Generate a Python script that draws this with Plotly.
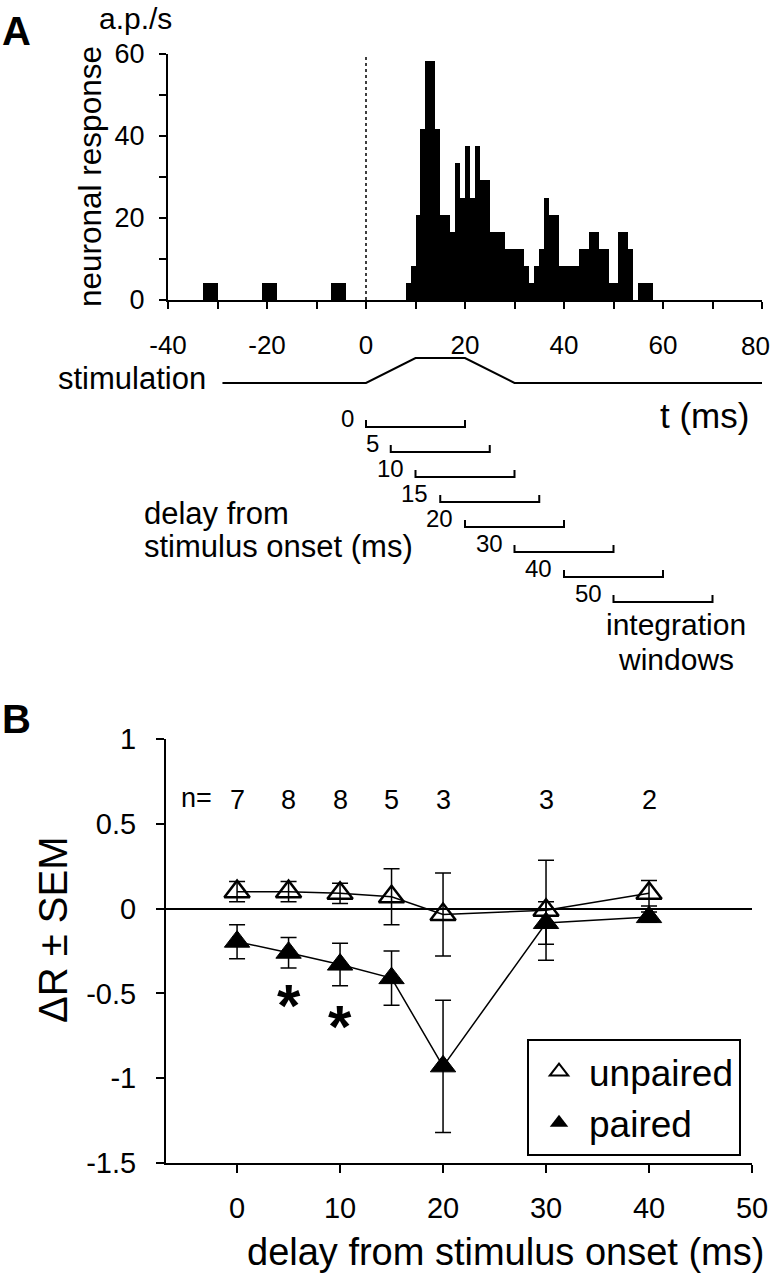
import plotly.graph_objects as go

# ---------------- data ----------------
# Panel A: PSTH (bin edges in ms, rate in a.p./s)
bin_left = [-33, -21, -7, 8, 9, 10, 11, 12, 14, 15, 17, 18, 19, 20, 21, 22, 23, 25, 28,
            32, 33, 34, 35, 36, 37, 39, 43, 45, 47, 49, 51, 53, 55]
bin_right = [-30, -18, -4, 9, 10, 11, 12, 14, 15, 17, 18, 19, 20, 21, 22, 23, 25, 28, 32,
             33, 34, 35, 36, 37, 39, 43, 45, 47, 49, 51, 53, 54, 58]
rate = [4.2, 4.2, 4.2, 4.2, 8.3, 20.8, 41.7, 58.3, 41.7, 20.8, 16.7, 33.3, 25.0, 37.5, 25.0,
        37.5, 29.2, 16.7, 12.5, 8.3, 4.2, 8.3, 12.5, 25.0, 20.8, 8.3, 12.5, 16.7, 12.5, 4.2,
        16.7, 12.5, 4.2]

# stimulation waveform (time ms, relative level)
stim_t = [-29, 0, 10, 20, 30, 80]
stim_level = [0, 0, 1, 1, 0, 0]

# integration windows
window_delays = [0, 5, 10, 15, 20, 30, 40, 50]
window_len = 20

# Panel B
delays = [0, 5, 10, 15, 20, 30, 40]
unpaired_mean = [0.10, 0.10, 0.09, 0.07, -0.035, -0.01, 0.09]
unpaired_sem = [0.06, 0.06, 0.06, 0.165, 0.245, 0.295, 0.075]
paired_mean = [-0.195, -0.26, -0.33, -0.41, -0.93, -0.085, -0.05]
paired_sem = [0.10, 0.09, 0.125, 0.16, 0.39, 0.125, 0.03]
n_counts = [7, 8, 8, 5, 3, 3, 2]
signif_delays = [5, 10]
signif_y = [-0.52, -0.64]

xA_ticks = [-40, -20, 0, 20, 40, 60, 80]
xA_ticktext = ["-40", "-20", "0", "20", "40", "60", ""]   # last label placed inside the page edge below
xA_last_label = "80"
yA_ticks = [0, 20, 40, 60]
xB_ticks = [0, 10, 20, 30, 40, 50]
yB_ticks = [1, 0.5, 0, -0.5, -1, -1.5]
yB_ticktext = ["1", "0.5", "0", "-0.5", "-1", "-1.5"]

# ---------------- layout helpers ----------------
W, H = 774, 1280
FONT = "Liberation Sans, Arial, Helvetica, sans-serif"


def px(p):
    return p / W


def py(p):
    return 1 - p / H


fig = go.Figure()

# histogram
fig.add_trace(go.Bar(
    x=[(l + r) / 2 for l, r in zip(bin_left, bin_right)],
    y=rate,
    width=[r - l for l, r in zip(bin_left, bin_right)],
    marker=dict(color="black", line=dict(width=0)),
    xaxis="x", yaxis="y", showlegend=False, hoverinfo="skip"))

# stimulation trace
fig.add_trace(go.Scatter(x=stim_t, y=stim_level, mode="lines",
                         line=dict(color="black", width=2),
                         xaxis="x2", yaxis="y2", showlegend=False, hoverinfo="skip"))

# integration windows
wx, wy = [], []
for i, d in enumerate(window_delays):
    wx += [d, d, d + window_len, d + window_len, None]
    wy += [i - 0.28, i, i, i - 0.28, None]
fig.add_trace(go.Scatter(x=wx, y=wy, mode="lines", line=dict(color="black", width=2),
                         xaxis="x3", yaxis="y3", showlegend=False, hoverinfo="skip"))

# panel B
fig.add_trace(go.Scatter(
    x=delays, y=unpaired_mean, mode="lines+markers",
    line=dict(color="black", width=1.5),
    marker=dict(symbol="triangle-up", size=22, color="rgba(0,0,0,0)",
                line=dict(color="black", width=2.5)),
    error_y=dict(type="data", array=unpaired_sem, color="black", thickness=1.5, width=8),
    xaxis="x4", yaxis="y4", showlegend=False, name="unpaired"))
fig.add_trace(go.Scatter(
    x=delays, y=paired_mean, mode="lines+markers",
    line=dict(color="black", width=1.5),
    marker=dict(symbol="triangle-up", size=22, color="black",
                line=dict(color="black", width=1)),
    error_y=dict(type="data", array=paired_sem, color="black", thickness=1.5, width=8),
    xaxis="x4", yaxis="y4", showlegend=False, name="paired"))

# legend entries
fig.add_trace(go.Scatter(x=[None], y=[None], mode="markers", name="unpaired",
                         marker=dict(symbol="triangle-up", size=16, color="rgba(0,0,0,0)",
                                     line=dict(color="black", width=2)),
                         xaxis="x4", yaxis="y4"))
fig.add_trace(go.Scatter(x=[None], y=[None], mode="markers", name="paired",
                         marker=dict(symbol="triangle-up", size=16, color="black"),
                         xaxis="x4", yaxis="y4"))

axis_common = dict(showline=True, linecolor="black", linewidth=2, ticks="outside",
                   tickcolor="black", tickwidth=2, showgrid=False, zeroline=False,
                   fixedrange=True, automargin=False)

layout = dict(
    width=W, height=H,
    margin=dict(l=0, r=0, t=0, b=0, pad=0, autoexpand=False),
    paper_bgcolor="white", plot_bgcolor="white",
    font=dict(family=FONT, color="black"),
    bargap=0,
    xaxis=dict(domain=[px(168), px(762)], range=[-40, 80], anchor="y",
               tickvals=xA_ticks, ticktext=xA_ticktext, ticklen=7, ticklabelstandoff=14,
               tickfont=dict(size=26),
               minor=dict(dtick=10, tick0=0, ticks="outside", ticklen=7,
                          tickcolor="black", tickwidth=2),
               **axis_common),
    yaxis=dict(domain=[py(300), py(54)], range=[0, 60], anchor="x",
               tickvals=yA_ticks, ticklen=7, ticklabelstandoff=9,
               tickfont=dict(size=27),
               minor=dict(dtick=10, tick0=0, ticks="outside", ticklen=7,
                          tickcolor="black", tickwidth=2),
               **axis_common),
    xaxis2=dict(domain=[px(168), px(762)], matches="x", anchor="y2", visible=False),
    yaxis2=dict(domain=[py(385.5), py(355.5)], range=[-0.1, 1.1], anchor="x2",
                visible=False, fixedrange=True),
    xaxis3=dict(domain=[px(168), px(762)], matches="x", anchor="y3", visible=False),
    yaxis3=dict(domain=[py(622), py(397)], range=[7.8, -1.2], anchor="x3",
                visible=False, fixedrange=True),
    xaxis4=dict(domain=[px(166), px(752)], range=[-6.9, 50], anchor="y4",
                tickvals=xB_ticks, ticklen=8, ticklabelstandoff=10,
                tickfont=dict(size=29), ticklabeloverflow="allow", **axis_common),
    yaxis4=dict(domain=[py(1163), py(739)], range=[-1.5, 1], anchor="x4",
                tickvals=yB_ticks, ticktext=yB_ticktext, ticklen=8, ticklabelstandoff=14,
                tickfont=dict(size=29),
                **{k: v for k, v in axis_common.items() if k != "zeroline"},
                zeroline=True, zerolinecolor="black", zerolinewidth=1.5),
    showlegend=True,
    legend=dict(x=px(527), y=py(1039), xanchor="left", yanchor="top",
                bordercolor="black", borderwidth=2, bgcolor="white",
                font=dict(size=37), itemwidth=50, tracegroupgap=0),
)
fig.update_layout(**layout)

# dotted line at stimulus onset
fig.add_shape(type="line", xref="x", yref="y", x0=0, x1=0, y0=0, y1=60,
              line=dict(color="black", width=1.5, dash="dot"))

ann = []


def add_text(text, x, y, size, xanchor="center", yanchor="middle", **kw):
    ann.append(dict(text=text, x=px(x), y=py(y), xref="paper", yref="paper",
                    xanchor=xanchor, yanchor=yanchor, showarrow=False,
                    font=dict(size=size, family=FONT, color="black"), **kw))


add_text("<b>A</b>", 0, 31, 40, xanchor="left")
add_text("<b>B</b>", 0, 719, 40, xanchor="left")
add_text("a.p./s", 135, 0, 30, yanchor="top")
add_text("neuronal response", 90, 177, 31.5, textangle=-90)
add_text(xA_last_label, 772, 346, 26, xanchor="right")
add_text("stimulation", 208, 378, 31, xanchor="right")
add_text("t (ms)", 751, 416, 35, xanchor="right")
add_text("delay from", 142, 513, 31, xanchor="left")
add_text("stimulus onset (ms)", 142, 546, 31, xanchor="left")
add_text("integration", 676, 624, 30)
add_text("windows", 676, 659, 30)
add_text("n=", 196, 798, 27)
add_text("delay from stimulus onset (ms)", 766, 1252, 38, xanchor="right")
add_text("ΔR ± SEM", 53, 930, 40, textangle=-90)

# window labels
for i, d in enumerate(window_delays):
    ann.append(dict(text=str(d), x=d - 2.0, y=i - 0.36, xref="x3", yref="y3",
                    xanchor="right", yanchor="middle", showarrow=False,
                    font=dict(size=24, family=FONT, color="black")))

# n counts
for d, n in zip(delays, n_counts):
    ann.append(dict(text=str(n), x=d, y=0.64, xref="x4", yref="y4",
                    xanchor="center", yanchor="middle", showarrow=False,
                    font=dict(size=27, family=FONT, color="black")))

# significance stars
for d, yv in zip(signif_delays, signif_y):
    ann.append(dict(text="<b>*</b>", x=d, y=yv, xref="x4", yref="y4",
                    xanchor="center", yanchor="middle", showarrow=False, yshift=-9,
                    font=dict(size=60, family=FONT, color="black")))

fig.update_layout(annotations=ann)

fig.write_html("out.html",
               config={"displayModeBar": False, "responsive": False},
               post_script="document.body.style.margin='0';"
                           "document.body.style.overflow='hidden';")
